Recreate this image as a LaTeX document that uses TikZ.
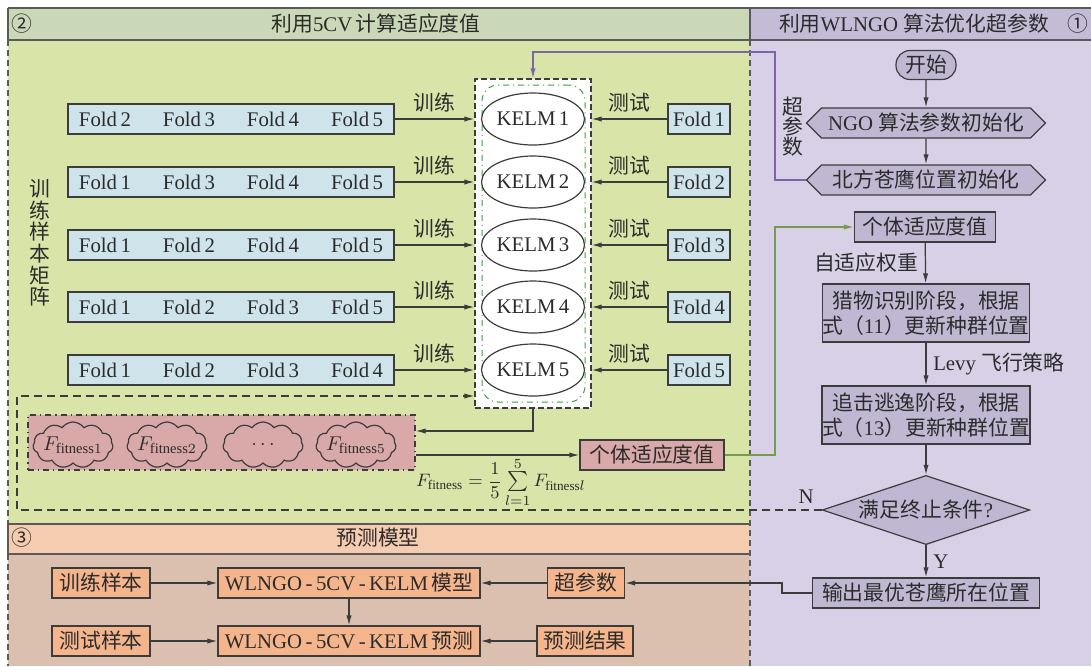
\documentclass[tikz,border=0pt]{standalone}
\usepackage{fontspec}
\setmainfont{Liberation Serif}
\newfontfamily\cjk{Noto Sans CJK SC}
\usepackage{tikz}
\usetikzlibrary{arrows.meta,shapes.geometric,shapes.symbols,positioning}
\definecolor{hdrGreen}{HTML}{CBD8B7}
\definecolor{bodyGreen}{HTML}{D8E4A8}
\definecolor{hdrPurple}{HTML}{C4BCD6}
\definecolor{bodyPurple}{HTML}{D8D0E6}
\definecolor{hdrOrange}{HTML}{F6CCB0}
\definecolor{bodyOrange}{HTML}{DBC0B0}
\definecolor{foldBlue}{HTML}{CEE4EA}
\definecolor{pinkFill}{HTML}{D9A8A8}
\definecolor{flowFill}{HTML}{C0B8D2}
\definecolor{orangeBox}{HTML}{F4B48C}
\definecolor{lineGray}{HTML}{3C3C3C}
\definecolor{frameGray}{HTML}{5A5A5A}
\definecolor{txtGray}{HTML}{2B2B2B}
\definecolor{paramPurple}{HTML}{8064AA}
\definecolor{fitGreen}{HTML}{789B50}
\definecolor{dashGreen}{HTML}{3CA03C}

\newcommand{\zh}[1]{{\cjk #1}}
\newcommand{\fgap}{\hspace{16pt}}

\begin{document}
\begin{tikzpicture}[
  x=0.5pt, y=-0.5pt,
  every node/.style={font=\fontsize{10.4}{12.5}\selectfont, text=txtGray},
  secline/.style={draw=frameGray, line width=0.6pt},
  foldrow/.style={draw=lineGray, line width=0.6pt, fill=foldBlue,
                  minimum width=163pt, minimum height=15pt, inner sep=0pt},
  foldbox/.style={draw=lineGray, line width=0.6pt, fill=foldBlue,
                  minimum width=31pt, minimum height=15pt, inner sep=0pt},
  kelm/.style={ellipse, draw=lineGray, line width=0.6pt, fill=white,
               minimum width=46pt, minimum height=26pt, inner sep=0pt},
  cloudy/.style={cloud, cloud puffs=11, cloud puff arc=110, aspect=1.7,
                 draw=lineGray, line width=0.6pt, minimum width=40pt,
                 minimum height=23pt, inner sep=0pt},
  fitbox/.style={draw=lineGray, line width=0.6pt, fill=pinkFill,
                 minimum height=15pt, inner sep=0pt},
  flow/.style={draw=lineGray, line width=0.6pt, fill=flowFill,
               minimum height=15pt, inner sep=0pt},
  hexa/.style={signal, signal to=west and east, draw=lineGray, line width=0.6pt,
               fill=flowFill, minimum width=119.5pt, minimum height=15pt, inner sep=0pt},
  pred/.style={draw=lineGray, line width=0.6pt, fill=orangeBox,
               minimum height=15pt, inner sep=0pt},
  arr/.style={-{Latex[length=5pt,width=2.6pt]}, line width=0.6pt, lineGray},
]
\useasboundingbox (0,0) rectangle (1091,666);

% Panels
\fill[hdrGreen] (8,8) rectangle (750,40);
\fill[bodyGreen] (8,40) rectangle (750,524);
\fill[hdrPurple] (750,8) rectangle (1091,40);
\fill[bodyPurple] (750,40) rectangle (1091,666);
\fill[hdrOrange] (8,524) rectangle (750,554);
\fill[bodyOrange] (8,554) rectangle (750,666);
\draw[secline] (8,8) -- (1091,8);
\draw[secline] (8,40) -- (1091,40);
\draw[secline] (8,524) -- (750,524);
\draw[secline] (8,554) -- (750,554);
\draw[secline] (8,8) -- (8,40);
\draw[secline] (750,8) -- (750,40);
\draw[secline] (8,524) -- (8,554);
\draw[secline, dash pattern=on 3pt off 2pt] (8,40) -- (8,524);
\draw[secline, dash pattern=on 3pt off 2pt] (8,554) -- (8,666);
\draw[secline, dash pattern=on 3pt off 2pt] (750,40) -- (750,666);

% Headers
\node (hdNumTwo) at (22,24) {\zh{②}};
\node (hdTwo) at (376,24) {\zh{利用}5CV\,\zh{计算适应度值}};
\node (hdOne) at (914,24) {\zh{利用}WLNGO \zh{算法优化超参数}};
\node (hdNumOne) at (1078,24) {\zh{①}};
\node (hdNumThree) at (22,538) {\zh{③}};
\node (hdThree) at (378,538) {\zh{预测模型}};

% Training folds
\node[align=center, font=\cjk\fontsize{10.4}{10.8}\selectfont] (trmat) at (40,243) {训\\练\\样\\本\\矩\\阵};
\node[foldrow] (tr1) at (231,119) {Fold\,2\fgap Fold\,3\fgap Fold\,4\fgap Fold\,5};
\node[foldrow] (tr2) at (231,182) {Fold\,1\fgap Fold\,3\fgap Fold\,4\fgap Fold\,5};
\node[foldrow] (tr3) at (231,245) {Fold\,1\fgap Fold\,2\fgap Fold\,4\fgap Fold\,5};
\node[foldrow] (tr4) at (231,307) {Fold\,1\fgap Fold\,2\fgap Fold\,3\fgap Fold\,5};
\node[foldrow] (tr5) at (231,370) {Fold\,1\fgap Fold\,2\fgap Fold\,3\fgap Fold\,4};

% KELM models
\node[draw=lineGray, line width=0.6pt, dash pattern=on 3pt off 1.5pt, fill=white,
      minimum width=58pt, minimum height=164.5pt, inner sep=0pt] (kbox) at (533,243.5) {};
\node[draw=dashGreen, line width=0.5pt, dash dot, rounded corners=8pt,
      minimum width=51.5pt, minimum height=158.5pt, inner sep=0pt] (kin) at (533.5,243.5) {};
\node[kelm] (k1) at (533,119) {KELM\,1};
\node[kelm] (k2) at (533,182) {KELM\,2};
\node[kelm] (k3) at (533,245) {KELM\,3};
\node[kelm] (k4) at (533,307) {KELM\,4};
\node[kelm] (k5) at (533,370) {KELM\,5};

% Test folds
\node[foldbox] (te1) at (699,119) {Fold\,1};
\node[foldbox] (te2) at (699,182) {Fold\,2};
\node[foldbox] (te3) at (699,245) {Fold\,3};
\node[foldbox] (te4) at (699,307) {Fold\,4};
\node[foldbox] (te5) at (699,370) {Fold\,5};

% Fitness values
\node[fitbox, dash dot, minimum width=193.5pt, minimum height=27.5pt] (fit) at (221.5,442.5) {};
\node[cloudy, label=center:{$F_{\mathrm{fitness}1}$}] (cl1) at (73,445) {};
\node[cloudy, label=center:{$F_{\mathrm{fitness}2}$}] (cl2) at (167,445) {};
\node[cloudy, label=center:{$\cdots$}] (cl3) at (263,445) {};
\node[cloudy, label=center:{$F_{\mathrm{fitness}5}$}] (cl4) at (356,445) {};
\node[fitbox, minimum width=72pt] (indv) at (652,455) {\zh{个体适应度值}};
\node[font=\fontsize{9.4}{11}\selectfont] (frm) at (501,482)
  {$F_{\mathrm{fitness}}=\displaystyle\frac{1}{5}\textstyle\sum\limits_{l=1}^{5}F_{\mathrm{fitness}l}$};

% WLNGO flow
\node[flow, rounded corners=7pt, minimum width=30pt, minimum height=14.5pt] (start) at (926,65) {\zh{开始}};
\node[hexa] (ngo) at (926,123) {NGO \zh{算法参数初始化}};
\node[hexa] (init) at (926,180) {\zh{北方苍鹰位置初始化}};
\node[flow, minimum width=70.5pt] (fitR) at (925,227) {\zh{个体适应度值}};
\node[flow, align=center, minimum width=102.5pt, minimum height=29pt] (prey) at (926,313)
  {\zh{猎物识别阶段，根据}\\\zh{式（}11\zh{）更新种群位置}};
\node[flow, align=center, minimum width=102.5pt, minimum height=29pt] (chase) at (926,415)
  {\zh{追击逃逸阶段，根据}\\\zh{式（}13\zh{）更新种群位置}};
\node[diamond, draw=lineGray, line width=0.6pt, fill=flowFill, aspect=3, inner sep=1pt,
      minimum width=103pt, minimum height=34.5pt] (dec) at (926,510) {\zh{满足终止条件}?};
\node[flow, minimum width=113.5pt] (out) at (926,593) {\zh{输出最优苍鹰所在位置}};
\node[align=center, font=\cjk\fontsize{10.4}{10}\selectfont] (hyp) at (793,127) {超\\参\\数};
\node (nlab) at (806,497) {N};

% Prediction model
\node[pred, minimum width=49pt] (trs) at (101,583) {\zh{训练样本}};
\node[pred, minimum width=131pt] (mdl) at (349,583) {WLNGO\,-\,5CV\,-\,KELM\,\zh{模型}};
\node[pred, minimum width=38.5pt] (hp) at (586,583) {\zh{超参数}};
\node[pred, minimum width=49pt] (tss) at (101,641) {\zh{测试样本}};
\node[pred, minimum width=131pt] (prd) at (349,641) {WLNGO\,-\,5CV\,-\,KELM\,\zh{预测}};
\node[pred, minimum width=48pt] (res) at (585,641) {\zh{预测结果}};

% Arrows: folds -> KELM
\draw[arr] (tr1) -- (tr1 -| kbox.west) node[midway, above] {\zh{训练}};
\draw[arr] (tr2) -- (tr2 -| kbox.west) node[midway, above] {\zh{训练}};
\draw[arr] (tr3) -- (tr3 -| kbox.west) node[midway, above] {\zh{训练}};
\draw[arr] (tr4) -- (tr4 -| kbox.west) node[midway, above] {\zh{训练}};
\draw[arr] (tr5) -- (tr5 -| kbox.west) node[midway, above] {\zh{训练}};
\draw[arr] (te1) -- (te1 -| kbox.east) node[midway, above] {\zh{测试}};
\draw[arr] (te2) -- (te2 -| kbox.east) node[midway, above] {\zh{测试}};
\draw[arr] (te3) -- (te3 -| kbox.east) node[midway, above] {\zh{测试}};
\draw[arr] (te4) -- (te4 -| kbox.east) node[midway, above] {\zh{测试}};
\draw[arr] (te5) -- (te5 -| kbox.east) node[midway, above] {\zh{测试}};

% KELM -> fitness -> optimiser
\draw[arr] (kbox.south) |- ([yshift=5.75pt]fit.east);
\draw[arr] ([yshift=-6.25pt]fit.east) -- (indv.west);
\coordinate (gturn) at (775,455);
\draw[arr, fitGreen] (indv.east) -- (gturn) |- (fitR.west);
\coordinate (pturn) at (775,52);
\draw[arr, paramPurple] (init.west) -| (pturn) -| (kbox.north);

% Flow arrows
\draw[arr] (start) -- (ngo);
\draw[arr] (ngo) -- (init);
\draw[arr] (fitR) -- (prey) node[midway, left] {\zh{自适应权重}};
\draw[arr] (prey) -- (chase) node[midway, right] {Levy \zh{飞行策略}};
\draw[arr] (chase) -- (dec);
\draw[arr] (dec) -- (out) node[midway, right] {Y};
\coordinate (nl) at (17,396);
\draw[arr, dash pattern=on 4pt off 2.5pt] (dec.west) -| (nl) -- (nl -| kbox.west);
\coordinate (oturn) at (782,583);
\draw[arr] (out.west) -| (oturn) -- (hp.east);

% Prediction arrows
\draw[arr] (trs) -- (mdl);
\draw[arr] (hp) -- (mdl);
\draw[arr] (mdl) -- (prd);
\draw[arr] (tss) -- (prd);
\draw[arr] (res) -- (prd);

\end{tikzpicture}
\end{document}
